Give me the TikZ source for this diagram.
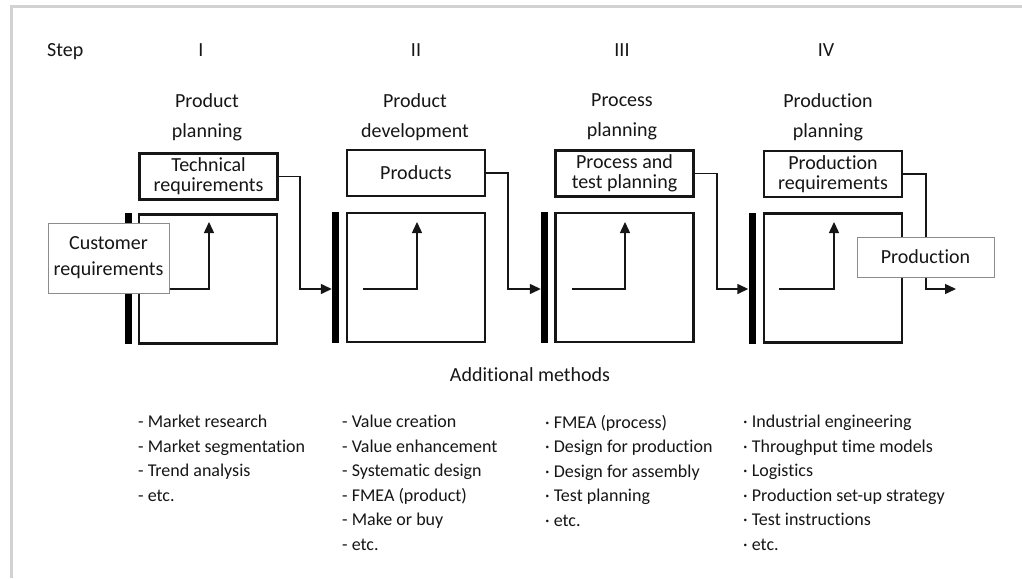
\documentclass[tikz,border=0pt]{standalone}
\usepackage{fontspec}
\setmainfont{Carlito}[Ligatures=NoCommon]
\usetikzlibrary{arrows.meta}
\definecolor{ink}{HTML}{161616}
\definecolor{framec}{HTML}{D2D2D2}
\definecolor{soft}{HTML}{8C8C8C}
\begin{document}
\begin{tikzpicture}[x=1pt,y=-1pt,
  every node/.style={text=ink},
  lbl/.style={font=\fontsize{20}{30}\selectfont, align=center, inner sep=0},
  topbox/.style={draw=ink, line width=2.2pt, minimum width=138pt, minimum height=46pt, inner sep=0, align=center, font=\fontsize{20}{20}\selectfont},
  sqbox/.style={draw=ink, line width=2.2pt, minimum width=138pt, minimum height=129pt, inner sep=0},
  barbox/.style={fill=black, minimum width=7pt, minimum height=131pt, inner sep=0},
  graybox/.style={draw=soft, fill=white, line width=1pt, inner sep=0, align=center, font=\fontsize{20}{26}\selectfont},
  conn/.style={draw=ink, line width=1.4pt},
  arr/.style={conn, -{Triangle[length=11pt,width=10pt]}},
  lst/.style={font=\fontsize{18}{24.5}\selectfont, align=left, anchor=north west, inner sep=0}
]
\useasboundingbox (0,0) rectangle (1022,578);
\fill[white] (0,0) rectangle (1022,578);
\draw[framec, line width=3pt] (1022,7) -- (11,7) -- (11,578);

% header
\node[lbl, anchor=west] (step) at (47,52) {Step};
\node[lbl] (n1) at (201,50) {I};
\node[lbl] (n2) at (416,50) {II};
\node[lbl] (n3) at (622,50) {III};
\node[lbl] (n4) at (826,50) {IV};

\node[lbl] (h1) at (207,117) {Product\\planning};
\node[lbl] (h2) at (415,117) {Product\\development};
\node[lbl] (h3) at (622,117) {Process\\planning};
\node[lbl] (h4) at (828,117) {Production\\planning};

% bars
\node[barbox] (bar1) at (128.5,278) {};
\node[barbox] (bar2) at (335.5,277.5) {};
\node[barbox] (bar3) at (544.5,277.5) {};
\node[barbox] (bar4) at (752,278) {};

% squares
\node[sqbox] (sq1) at (208,279) {};
\node[sqbox] (sq2) at (416,277.5) {};
\node[sqbox] (sq3) at (624.5,277.5) {};
\node[sqbox] (sq4) at (833,278) {};

% top boxes
\node[topbox] (tr1) at (208.5,176.5) {Technical\\requirements};
\node[topbox] (tr2) at (416,173) {Products};
\node[topbox] (tr3) at (624.5,173.5) {Process and\\test planning};
\node[topbox] (tr4) at (833,174) {Production\\requirements};

% coordinates
\coordinate (row) at (0,289);
\coordinate (t1) at (209,222);
\coordinate (s2) at (363,289);
\coordinate (t2) at (417,222);
\coordinate (s3) at (572,289);
\coordinate (t3) at (625,222);
\coordinate (s4) at (779,289);
\coordinate (t4) at (834,222);
\coordinate (j1) at (300,289);
\coordinate (j2) at (508,289);
\coordinate (j3) at (717,289);
\coordinate (j4) at (926,289);
\coordinate (out) at (956,289);

% inner arrows
\draw[arr] (s2) -| (t2);
\draw[arr] (s3) -| (t3);
\draw[arr] (s4) -| (t4);

% stage connectors
\draw[arr] (tr1.east) -| (j1) -- (j1 -| bar2.west);
\draw[arr] (tr2.east) -| (j2) -- (j2 -| bar3.west);
\draw[arr] (tr3.east) -| (j3) -- (j3 -| bar4.west);
\draw[arr] (tr4.east) -| (j4) -- (out);

% overlay boxes
\node[graybox, minimum width=121pt, minimum height=70pt] (cust) at (108.5,258) {Customer\\requirements};
\draw[arr] (cust.east |- row) -| (t1);
\node[graybox, minimum width=137pt, minimum height=40pt] (prodn) at (925.5,257) {Production};

% additional methods
\node[lbl] (am) at (530,375) {Additional methods};
\node[lst] (c1) at (138,415) {- Market research\\- Market segmentation\\- Trend analysis\\- etc.};
\node[lst] (c2) at (342,415) {- Value creation\\- Value enhancement\\- Systematic design\\- FMEA (product)\\- Make or buy\\- etc.};
\node[lst] (c3) at (545,415) {· FMEA (process)\\· Design for production\\· Design for assembly\\· Test planning\\· etc.};
\node[lst] (c4) at (743,415) {· Industrial engineering\\· Throughput time models\\· Logistics\\· Production set-up strategy\\· Test instructions\\· etc.};
\end{tikzpicture}
\end{document}
